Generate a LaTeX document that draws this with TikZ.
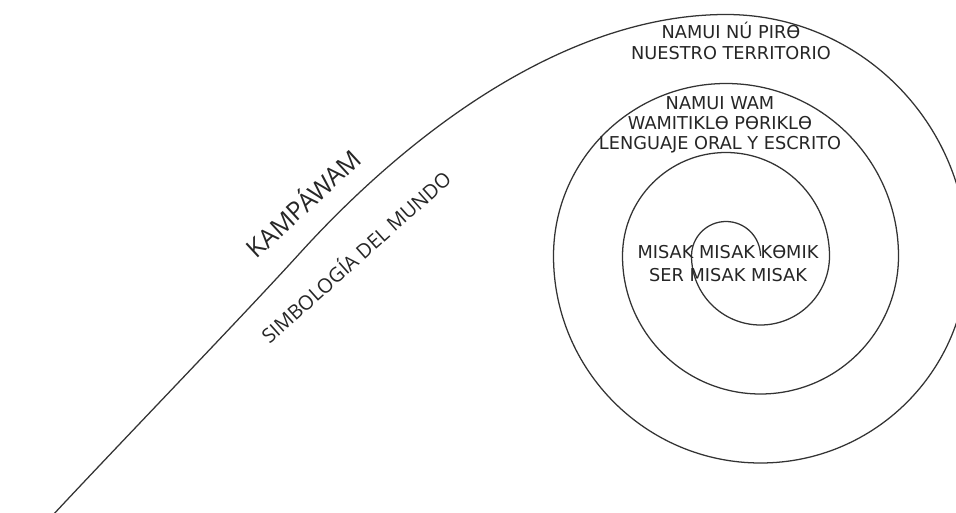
\documentclass[tikz,border=0pt]{standalone}
\usepackage{fontspec}
\setmainfont{DejaVu Sans}
\newfontfamily\opensans{Open Sans}

\tikzset{every picture/.style={line width=0.75pt}}
\tikzset{
  ringtext/.style={anchor=center, inner sep=0.75pt, align=center, text=black!85},
  armtext/.style={anchor=center, inner sep=0.75pt, text=black!85}
}

\begin{document}
\begin{tikzpicture}[x=0.75pt,y=0.75pt,yscale=-1,xscale=1]
%set diagram left start at 0, and has height of 513
\useasboundingbox (0,0) rectangle (956,513);

%Shape: Spiral [id:dp5102938471] 
\draw [color=black!80, line width=0.95]  (760.5,256) arc [start angle=0, end angle=-180, radius=34.5] arc [start angle=180, end angle=0, radius=69] arc [start angle=0, end angle=-180, radius=103.5] arc [start angle=180, end angle=0, radius=138] arc [start angle=0, end angle=-180, radius=172.5] arc [start angle=180, end angle=0, radius=207] arc [start angle=0, end angle=-90, radius=241.5] .. controls (566,14.5) and (410,132) .. (300,253) .. controls (240,319) and (120,443) .. (52,516) ;

% Text Node
\draw (731,40.6) node [ringtext, font=\fontsize{13.3}{16}\selectfont] (territorio) {NAMUI NÚ PIRƟ\\NUESTRO TERRITORIO};
% Text Node
\draw (720,125) node [ringtext, font=\fontsize{13.3}{15}\selectfont] (lenguaje) {NAMUI WAM\\WAMITIKLƟ PƟRIKLƟ\\LENGUAJE ORAL Y ESCRITO};
% Text Node
\draw (728,263.3) node [ringtext, font=\fontsize{13.3}{17.6}\selectfont] (misak) {MISAK MISAK KƟMIK\\SER MISAK MISAK};
% Text Node
\draw (302,202) node [armtext, rotate=42.7, font=\opensans\fontsize{19}{23}\selectfont] (kampawam) {KAMPÁWAM};
% Text Node
\draw (355,256) node [armtext, rotate=41.8, font=\opensans\fontsize{15}{18}\selectfont] (simbologia) {SIMBOLOGÍA DEL MUNDO};

\end{tikzpicture}
\end{document}
